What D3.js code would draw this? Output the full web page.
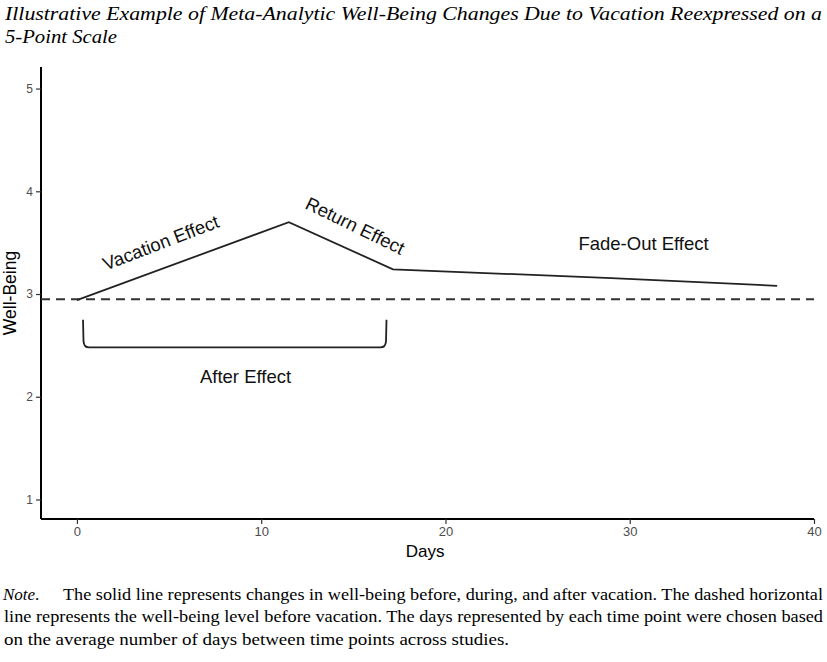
<!DOCTYPE html>
<html>
<head>
<meta charset="utf-8">
<script src="https://cdn.jsdelivr.net/npm/d3@7"></script>
<style>
  body { margin: 0; background: #fff; }
  svg { display: block; }
</style>
</head>
<body>
<svg id="chart"></svg>
<script>
// data
let days = [0, 11.5, 17.15, 29, 38];
let wellBeing = [2.94, 3.70, 3.24, 3.155, 3.08];
let baseline = 2.95;
let xTicks = [0, 10, 20, 30, 40];
let yTicks = [1, 2, 3, 4, 5];
let labelText = ["Vacation Effect", "Return Effect", "Fade-Out Effect", "After Effect"];
let labelDay = [4.55, 15.1, 30.75, 9.15];
let labelValue = [3.50, 3.665, 3.49, 2.20];
let labelAngle = [-21, 26, 0, 0];
let bracketDays = [0.33, 16.8];
let bracketValues = [2.75, 2.48];

let titleLines = ["Illustrative Example of Meta-Analytic Well-Being Changes Due to Vacation Reexpressed on a",
    "5-Point Scale"];
let noteLines = ["The solid line represents changes in well-being before, during, and after vacation. The dashed horizontal",
    "line represents the well-being level before vacation. The days represented by each time point were chosen based",
    "on the average number of days between time points across studies."];

function drawChart() {

    let width = 827, height = 662;
    let margin = {top: 67, right: 13, bottom: 143, left: 41};
    let sans = "'Liberation Sans', Arial, sans-serif";
    let serif = "'Liberation Serif', 'Times New Roman', serif";

    let svg = d3.select("#chart")
        .attr("width", width)
        .attr("height", height);

    //title
    svg.append("text")
        .attr("x", 5).attr("y", 20)
        .attr("textLength", 817).attr("lengthAdjust", "spacingAndGlyphs")
        .style("font-family", serif)
        .style("font-style", "italic")
        .style("font-size", "19px")
        .text(titleLines[0]);
    svg.append("text")
        .attr("x", 5).attr("y", 43)
        .attr("textLength", 112).attr("lengthAdjust", "spacingAndGlyphs")
        .style("font-family", serif)
        .style("font-style", "italic")
        .style("font-size", "19px")
        .text(titleLines[1]);

    let x = d3.scaleLinear()
        .domain([-1.95, 40])
        .range([margin.left, width - margin.right]);

    let y = d3.scaleLinear()
        .domain([0.81, 5.21])
        .range([height - margin.bottom, margin.top]);

    let g = svg.append("g");

    //axes
    let xAxis = g.append("g")
        .attr("transform", "translate(0," + (height - margin.bottom) + ")")
        .call(d3.axisBottom(x).tickValues(xTicks).tickFormat(d3.format("d"))
            .tickSize(5).tickPadding(3).tickSizeOuter(0));
    let yAxis = g.append("g")
        .attr("transform", "translate(" + margin.left + ",0)")
        .call(d3.axisLeft(y).tickValues(yTicks).tickFormat(d3.format("d"))
            .tickSize(5).tickPadding(3).tickSizeOuter(0));

    [xAxis, yAxis].forEach(function(a) {
        a.select(".domain").attr("stroke", "#000").attr("stroke-width", 2);
        a.selectAll(".tick line").attr("stroke", "#333").attr("stroke-width", 1.2);
        a.selectAll(".tick text")
            .attr("fill", "#4d4d4d")
            .style("font-family", sans);
    });
    xAxis.selectAll(".tick text").style("font-size", "13px");
    yAxis.selectAll(".tick text").style("font-size", "12px");
    xAxis.select(".domain").attr("d", "M" + margin.left + ",0H" + x(40));
    yAxis.select(".domain").attr("d", "M0," + y(0.81) + "V" + y(5.21));

    svg.append("text")
        .attr("x", x(18.9)).attr("y", 557)
        .attr("text-anchor", "middle")
        .style("font-family", sans)
        .style("font-size", "17px")
        .text("Days");

    svg.append("text")
        .attr("transform", "translate(16," + y(3.01) + ") rotate(-90)")
        .attr("text-anchor", "middle")
        .style("font-family", sans)
        .style("font-size", "17.5px")
        .text("Well-Being");

    //dashed baseline
    g.append("line")
        .attr("x1", x(-1.95)).attr("x2", x(40))
        .attr("y1", y(baseline)).attr("y2", y(baseline))
        .attr("stroke", "#333")
        .attr("stroke-width", 2)
        .attr("stroke-dasharray", "9,6");

    //solid line
    let line = d3.line()
        .x((d, i) => x(days[i]))
        .y(d => y(d));

    g.append("path")
        .datum(wellBeing)
        .attr("d", line)
        .attr("fill", "none")
        .attr("stroke", "#222")
        .attr("stroke-width", 1.8);

    //bracket for the after effect
    let bx0 = x(bracketDays[0]), bx1 = x(bracketDays[1]);
    let by0 = y(bracketValues[0]), by1 = y(bracketValues[1]);
    g.append("path")
        .attr("d", "M" + bx0 + "," + by0 +
            "L" + (bx0 + 0.5) + "," + (by1 - 6) +
            "Q" + (bx0 + 1) + "," + by1 + " " + (bx0 + 6) + "," + by1 +
            "L" + (bx1 - 6) + "," + by1 +
            "Q" + (bx1 - 1) + "," + by1 + " " + (bx1 - 0.5) + "," + (by1 - 6) +
            "L" + bx1 + "," + by0)
        .attr("fill", "none")
        .attr("stroke", "#222")
        .attr("stroke-width", 1.8);

    //annotations
    g.selectAll(".label")
        .data(labelText)
        .enter()
        .append("text")
        .attr("class", "label")
        .attr("transform", (d, i) => "translate(" + x(labelDay[i]) + "," + y(labelValue[i]) + ") rotate(" + labelAngle[i] + ")")
        .attr("text-anchor", "middle")
        .attr("dy", "0.35em")
        .attr("fill", "#111")
        .style("font-family", sans)
        .style("font-size", "18.5px")
        .text(d => d);

    //note
    let note = svg.append("g")
        .style("font-family", serif)
        .style("font-size", "17px");

    let first = note.append("text")
        .attr("x", 3).attr("y", 600);
    first.append("tspan")
        .style("font-style", "italic")
        .text("Note");
    first.append("tspan").text(".");

    note.append("text")
        .attr("x", 63).attr("y", 600)
        .attr("textLength", 760).attr("lengthAdjust", "spacingAndGlyphs")
        .text(noteLines[0]);
    note.append("text")
        .attr("x", 4).attr("y", 622)
        .attr("textLength", 819).attr("lengthAdjust", "spacingAndGlyphs")
        .text(noteLines[1]);
    note.append("text")
        .attr("x", 4).attr("y", 645)
        .attr("textLength", 505).attr("lengthAdjust", "spacingAndGlyphs")
        .text(noteLines[2]);
}

drawChart();
</script>
</body>
</html>
